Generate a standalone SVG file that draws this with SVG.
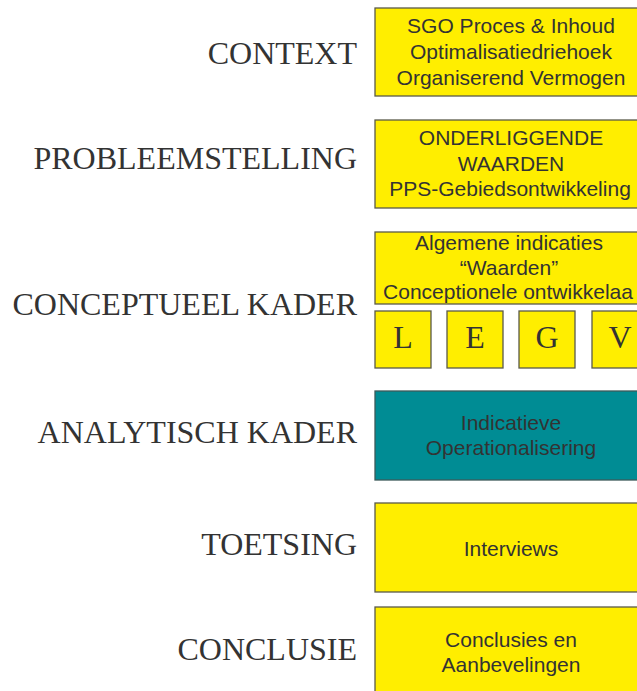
<svg xmlns="http://www.w3.org/2000/svg" width="637" height="691" viewBox="0 0 637 691">
<style>
.lbl{font-family:"Liberation Serif","Times New Roman",serif;font-size:32px;fill:#333;text-anchor:end}
.box{fill:#FFEE00;stroke:#5a5a4a;stroke-width:1.3}
.teal{fill:#008C94;stroke:#3c5a5a;stroke-width:1.3}
.t{font-family:"Liberation Sans",Arial,sans-serif;font-size:21px;fill:#333;text-anchor:middle}
.L{font-family:"Liberation Serif","Times New Roman",serif;font-size:32px;fill:#333;text-anchor:middle}
</style>
<rect width="637" height="691" fill="#fff"/>
<g id="labels">
<text class="lbl" x="357" y="64">CONTEXT</text>
<text class="lbl" x="357" y="169">PROBLEEMSTELLING</text>
<text class="lbl" x="357" y="315">CONCEPTUEEL KADER</text>
<text class="lbl" x="357" y="443">ANALYTISCH KADER</text>
<text class="lbl" x="357" y="555">TOETSING</text>
<text class="lbl" x="357" y="660">CONCLUSIE</text>
</g>
<g id="context">
<rect class="box" x="375" y="8" width="272" height="88"/>
<text class="t" x="511" y="33">SGO Proces &amp; Inhoud</text>
<text class="t" x="511" y="59">Optimalisatiedriehoek</text>
<text class="t" x="511" y="85">Organiserend Vermogen</text>
</g>
<g id="probleemstelling">
<rect class="box" x="375" y="120" width="272" height="88"/>
<text class="t" x="511" y="145">ONDERLIGGENDE</text>
<text class="t" x="511" y="171">WAARDEN</text>
<text class="t" x="510" y="196">PPS-Gebiedsontwikkeling</text>
</g>
<g id="conceptueel">
<rect class="box" x="375" y="232" width="272" height="72"/>
<text class="t" x="509" y="250">Algemene indicaties</text>
<text class="t" x="509" y="275">“Waarden”</text>
<text class="t" x="508" y="299">Conceptionele ontwikkelaa</text>
</g>
<g id="L"><rect class="box" x="375" y="311" width="56" height="57"/><text class="L" x="403" y="348">L</text></g>
<g id="E"><rect class="box" x="447" y="311" width="56" height="57"/><text class="L" x="475" y="348">E</text></g>
<g id="G"><rect class="box" x="519" y="311" width="56" height="57"/><text class="L" x="547" y="348">G</text></g>
<g id="V"><rect class="box" x="592" y="311" width="56" height="57"/><text class="L" x="620" y="348">V</text></g>
<g id="analytisch">
<rect class="teal" x="375" y="391" width="272" height="89"/>
<text class="t" x="511" y="430">Indicatieve</text>
<text class="t" x="511" y="455">Operationalisering</text>
</g>
<g id="toetsing">
<rect class="box" x="375" y="503" width="272" height="89"/>
<text class="t" x="511" y="556">Interviews</text>
</g>
<g id="conclusie">
<rect class="box" x="375" y="607" width="272" height="90"/>
<text class="t" x="511" y="647">Conclusies en</text>
<text class="t" x="511" y="672">Aanbevelingen</text>
</g>
<g id="connectors"></g>
</svg>
